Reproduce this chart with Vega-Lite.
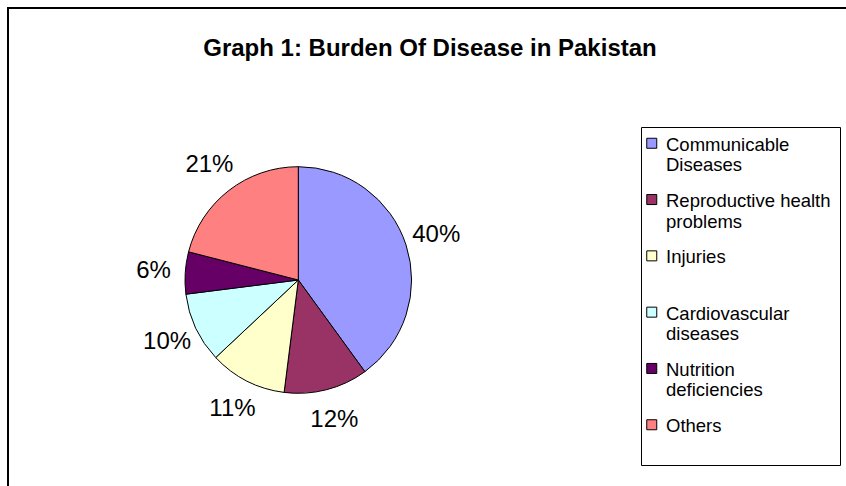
{
  "$schema": "https://vega.github.io/schema/vega-lite/v6.json",
  "width": 880,
  "height": 544,
  "autosize": "none",
  "padding": {"left": 8, "top": 8, "right": 0, "bottom": 0},
  "background": "white",
  "title": {
    "text": "Graph 1: Burden Of Disease in Pakistan",
    "anchor": "middle",
    "font": "Liberation Sans",
    "fontSize": 24,
    "fontWeight": "bold",
    "color": "black",
    "baseline": "middle",
    "offset": -28,
    "dy": 38,
    "dx": -18
  },
  "data": {
    "values": [
      {"category": "Communicable Diseases", "share": 0.40, "order": 1},
      {"category": "Reproductive health problems", "share": 0.12, "order": 2},
      {"category": "Injuries", "share": 0.11, "order": 3},
      {"category": "Cardiovascular diseases", "share": 0.10, "order": 4},
      {"category": "Nutrition deficiencies", "share": 0.06, "order": 5},
      {"category": "Others", "share": 0.21, "order": 6}
    ]
  },
  "layer": [
    {
      "mark": {"type": "rect", "fill": null, "fillOpacity": 0, "stroke": "black", "strokeWidth": 2},
      "encoding": {}
    },
    {
      "mark": {"type": "arc", "stroke": "black", "strokeWidth": 1, "outerRadius": 113.3, "xOffset": -149.7},
      "encoding": {
        "theta": {"field": "share", "type": "quantitative", "stack": true},
        "order": {"field": "order", "type": "quantitative", "sort": "ascending"},
        "color": {
          "field": "category",
          "type": "nominal",
          "scale": {
            "domain": ["Communicable Diseases", "Reproductive health problems", "Injuries", "Cardiovascular diseases", "Nutrition deficiencies", "Others"],
            "range": ["#9999FF", "#993366", "#FFFFCC", "#CCFFFF", "#660066", "#FF8080"]
          },
          "legend": {
            "orient": "none",
            "legendX": 633,
            "legendY": 119,
            "title": null,
            "strokeColor": "black",
            "fillColor": "white",
            "padding": 8.5,
            "labelFont": "Liberation Sans",
            "labelFontSize": 18.5,
            "labelColor": "black",
            "labelLimit": 400,
            "labelOffset": 5,
            "symbolOffset": -7,
            "rowPadding": 16.3,
            "symbolType": "M-1,-1.3H1V0.7H-1Z",
            "symbolSize": 100,
            "symbolStrokeColor": "black",
            "symbolStrokeWidth": 1,
            "symbolOpacity": 1,
            "labelExpr": "datum.label == 'Communicable Diseases' ? ['Communicable', 'Diseases'] : datum.label == 'Reproductive health problems' ? ['Reproductive health', 'problems'] : datum.label == 'Cardiovascular diseases' ? ['Cardiovascular', 'diseases'] : datum.label == 'Nutrition deficiencies' ? ['Nutrition', 'deficiencies'] : [datum.label, ' ']"
          }
        }
      }
    },
    {
      "mark": {"type": "text", "radius": 145, "font": "Liberation Sans", "fontSize": 24, "fill": "black", "xOffset": -149.7},
      "encoding": {
        "theta": {"field": "share", "type": "quantitative", "stack": true},
        "order": {"field": "order", "type": "quantitative", "sort": "ascending"},
        "detail": {"field": "category", "type": "nominal"},
        "text": {"field": "share", "type": "quantitative", "format": ".0%"}
      }
    }
  ],
  "config": {"view": {"stroke": null}}
}
